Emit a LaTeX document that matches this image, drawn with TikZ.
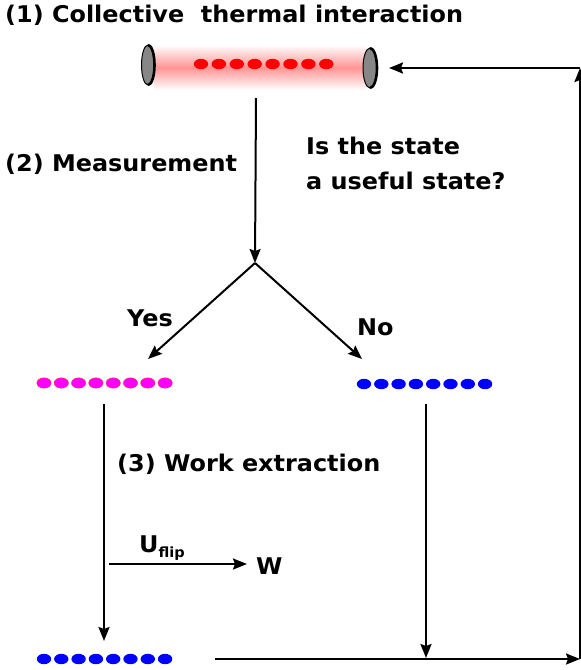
\documentclass[tikz,border=0pt]{standalone}
\usepackage{fontspec}
\setmainfont[FakeStretch=1.04]{DejaVu Sans}
\usetikzlibrary{arrows.meta,shapes.geometric}
\definecolor{magpure}{RGB}{255,0,255}
\definecolor{redpure}{RGB}{255,0,0}
\definecolor{bluepure}{RGB}{0,0,255}
\definecolor{mirgray}{RGB}{135,135,135}
\tikzset{
  conn/.style={line width=2pt, -{Stealth[length=14pt,width=11pt,inset=2pt]}},
  lbl/.style={anchor=base west, inner sep=0pt, font=\fontsize{23}{26}\selectfont\bfseries},
  mirror/.style={fill=mirgray, draw=black, line width=1pt},
  magdot/.style={fill=magpure, draw=redpure!80, line width=0.4pt},
  bluedot/.style={fill=bluepure},
}
\begin{document}
\begin{tikzpicture}[x=1pt,y=-1pt]
\useasboundingbox (0,0) rectangle (581,670);
% cavity glow
\shade[top color=white, bottom color=white, middle color=redpure!42] (154,45) rectangle (366,90);
% mirrors
\node[mirror, ellipse, minimum width=13pt, minimum height=40pt, inner sep=0pt] (mirL) at (148,65) {};
\draw[line width=2.6pt] (148,45) arc[start angle=-90, end angle=90, x radius=6.5, y radius=20];
\node[mirror, ellipse, minimum width=14pt, minimum height=40pt, inner sep=0pt] (mirR) at (370,68) {};
\draw[line width=2.6pt] (370,48) arc[start angle=-90, end angle=90, x radius=7, y radius=20];
% atoms
\node[minimum width=140pt, minimum height=12pt] (atomsA) at (263,64) {};
\foreach \i in {0,...,7} \fill[redpure] ({201+\i*17.9},64) ellipse (7.2pt and 5.2pt);
\node[minimum width=140pt, minimum height=12pt] (atomsY) at (104,383) {};
\foreach \i in {0,...,7} \path[magdot] ({44+\i*17.3},383) ellipse (7.2pt and 5.2pt);
\node[minimum width=140pt, minimum height=12pt] (atomsN) at (424,384) {};
\foreach \i in {0,...,7} \path[bluedot] ({364+\i*17.3},384) ellipse (7.2pt and 5.2pt);
\node[minimum width=140pt, minimum height=12pt] (atomsB) at (104,659) {};
\foreach \i in {0,...,7} \path[bluedot] ({44+\i*17.3},659) ellipse (7.2pt and 5.2pt);
% coordinates
\coordinate (cavout) at (256,98);
\coordinate (split) at (255,263);
\coordinate (yestip) at (148,359);
\coordinate (notip) at (362,359);
\coordinate (ytop) at (104,404);
\coordinate (ybot) at (104,641);
\coordinate (ntop) at (426,404);
\coordinate (nbot) at (426,658);
\coordinate (hstart) at (215,659);
\coordinate (corner1) at (580,659);
\coordinate (corner2) at (580,68);
\coordinate (mirin) at (389,68);
\coordinate (ustart) at (109,564);
\coordinate (uend) at (247,564);
% connectors
\draw[conn] (cavout) -- (split);
\draw[conn] (split) -- (yestip);
\draw[conn] (split) -- (notip);
\draw[conn] (ytop) -- (ybot);
\draw[conn] (ntop) -- (nbot);
\draw[conn] (hstart) -- (corner1);
\draw[conn] (corner1) -- (corner2);
\draw[conn] (corner2) -- (mirin);
\draw[conn] (ustart) -- (uend);
% labels
\node[lbl] (t1) at (5,22) {(1) Collective\ \ thermal interaction};
\node[lbl] (t2) at (5,171) {(2)\ Measurement};
\node[lbl] (q1) at (306,154) {Is the state};
\node[lbl] (q2) at (306,189) {a useful state?};
\node[lbl] (yes) at (127,326) {Yes};
\node[lbl] (no) at (357,335) {No};
\node[lbl] (t3) at (117,471) {(3)\ Work extraction};
\node[lbl] (uf) at (139,552) {U\raisebox{-5pt}{\fontsize{14}{16}\selectfont flip}};
\node[lbl] (w) at (256,574) {W};
\end{tikzpicture}
\end{document}
